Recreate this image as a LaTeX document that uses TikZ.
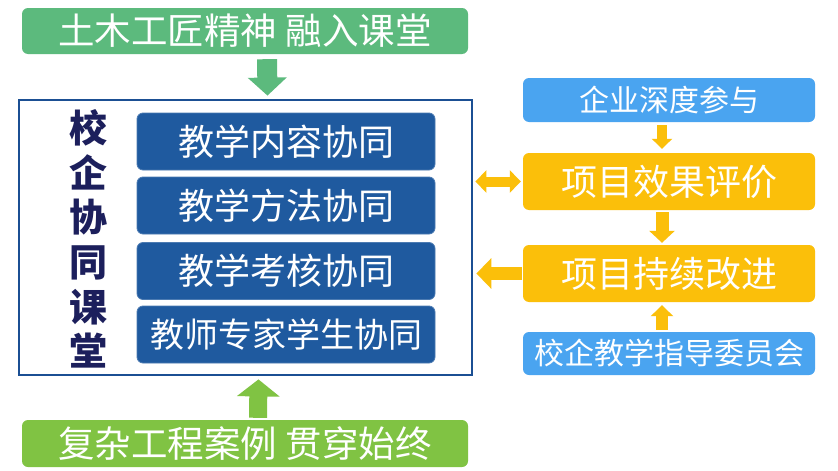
\documentclass[tikz,border=0pt]{standalone}
\usepackage{fontspec}
\newfontfamily\cjk{Noto Sans CJK SC}
\usetikzlibrary{arrows.meta}
\definecolor{tgreen}{HTML}{5CBA7D}
\definecolor{bgreen}{HTML}{80C343}
\definecolor{dblue}{HTML}{1F5A9F}
\definecolor{fblue}{HTML}{1B4F93}
\definecolor{lblue}{HTML}{4AA4F0}
\definecolor{ored}{HTML}{FBBF0A}
\definecolor{navy}{HTML}{1C1F5C}
\tikzset{
  box/.style={rectangle, rounded corners=6pt, inner sep=0pt, text=white, font=\cjk},
  greenbox/.style={box, fill=#1, minimum width=446pt, font=\cjk\fontsize{36.5}{36.5}\selectfont},
  innerbox/.style={box, fill=dblue, draw=dblue!80!white, line width=0.8pt, minimum width=298pt, minimum height=57pt, font=\cjk\fontsize{36}{36}\selectfont},
  rbox/.style={box, fill=#1, minimum width=292pt}
}
\begin{document}
\begin{tikzpicture}[x=1pt,y=-1pt]
\useasboundingbox (0,0) rectangle (838,471);
\fill[white] (0,0) rectangle (838,471);
% top and bottom
\node[greenbox=tgreen, minimum height=46pt] (top) at (245,31) {土木工匠精神 融入课堂};
\node[greenbox=bgreen, minimum height=47pt] (bottom) at (245,443.5) {复杂工程案例 贯穿始终};
% frame
\node[rectangle, draw=fblue, line width=2.8pt, minimum width=453pt, minimum height=275pt, inner sep=0pt] (frame) at (245.5,237.5) {};
\node[text=navy, font=\cjk\bfseries\fontsize{38}{44.6}\selectfont, align=center, inner sep=0pt] (vt) at (88,239) {校\\企\\协\\同\\课\\堂};
\node[innerbox] (c1) at (286,141.5) {教学内容协同};
\node[innerbox] (c2) at (286,205.5) {教学方法协同};
\node[innerbox] (c3) at (286,271) {教学考核协同};
\node[innerbox, font=\cjk\fontsize{34}{34}\selectfont] (c4) at (286,334.5) {教师专家学生协同};
% right
\node[rbox=lblue, minimum height=44pt, font=\cjk\fontsize{30}{30}\selectfont] (ent) at (669,100) {企业深度参与};
\node[rbox=ored, minimum height=57pt, font=\cjk\fontsize{36}{36}\selectfont] (eff) at (669,181.5) {项目效果评价};
\node[rbox=ored, minimum height=57pt, font=\cjk\fontsize{36}{36}\selectfont] (imp) at (669,273.5) {项目持续改进};
\node[rbox=lblue, minimum height=43pt, font=\cjk\fontsize{30}{30}\selectfont] (com) at (669,353.5) {校企教学指导委员会};
% arrows
\draw[tgreen, line width=20pt, -{Triangle[width=38pt,length=18pt,fill=tgreen]}, shorten <=5pt, shorten >=3pt]
  ([xshift=22pt]top.south) -- ([xshift=22pt]frame.north);
\draw[bgreen, line width=18pt, -{Triangle[width=42pt,length=17pt,fill=bgreen]}, shorten <=2pt, shorten >=3pt]
  ([xshift=13pt]bottom.north) -- ([xshift=13pt]frame.south);
\draw[ored, line width=10pt, -{Triangle[width=20pt,length=10pt,fill=ored]}, shorten <=3pt, shorten >=4pt]
  ([xshift=-7pt]ent.south) -- ([xshift=-7pt]eff.north);
\draw[ored, line width=13pt, -{Triangle[width=25pt,length=12pt,fill=ored]}, shorten <=2pt, shorten >=2pt]
  ([xshift=-7pt]eff.south) -- ([xshift=-7pt]imp.north);
\draw[ored, line width=12pt, -{Triangle[width=22pt,length=11pt,fill=ored]}, shorten <=2pt, shorten >=3pt]
  ([xshift=-7pt]com.north) -- ([xshift=-7pt]imp.south);
\draw[ored, line width=10pt, {Triangle[width=22pt,length=11pt,fill=ored]}-{Triangle[width=22pt,length=11pt,fill=ored]}, shorten <=2pt, shorten >=2pt]
  (eff.west -| frame.east) -- (eff.west);
\draw[ored, line width=13pt, -{Triangle[width=30pt,length=15pt,fill=ored]}, shorten <=1pt, shorten >=3pt]
  (imp.west) -- (imp.west -| frame.east);
\end{tikzpicture}
\end{document}
